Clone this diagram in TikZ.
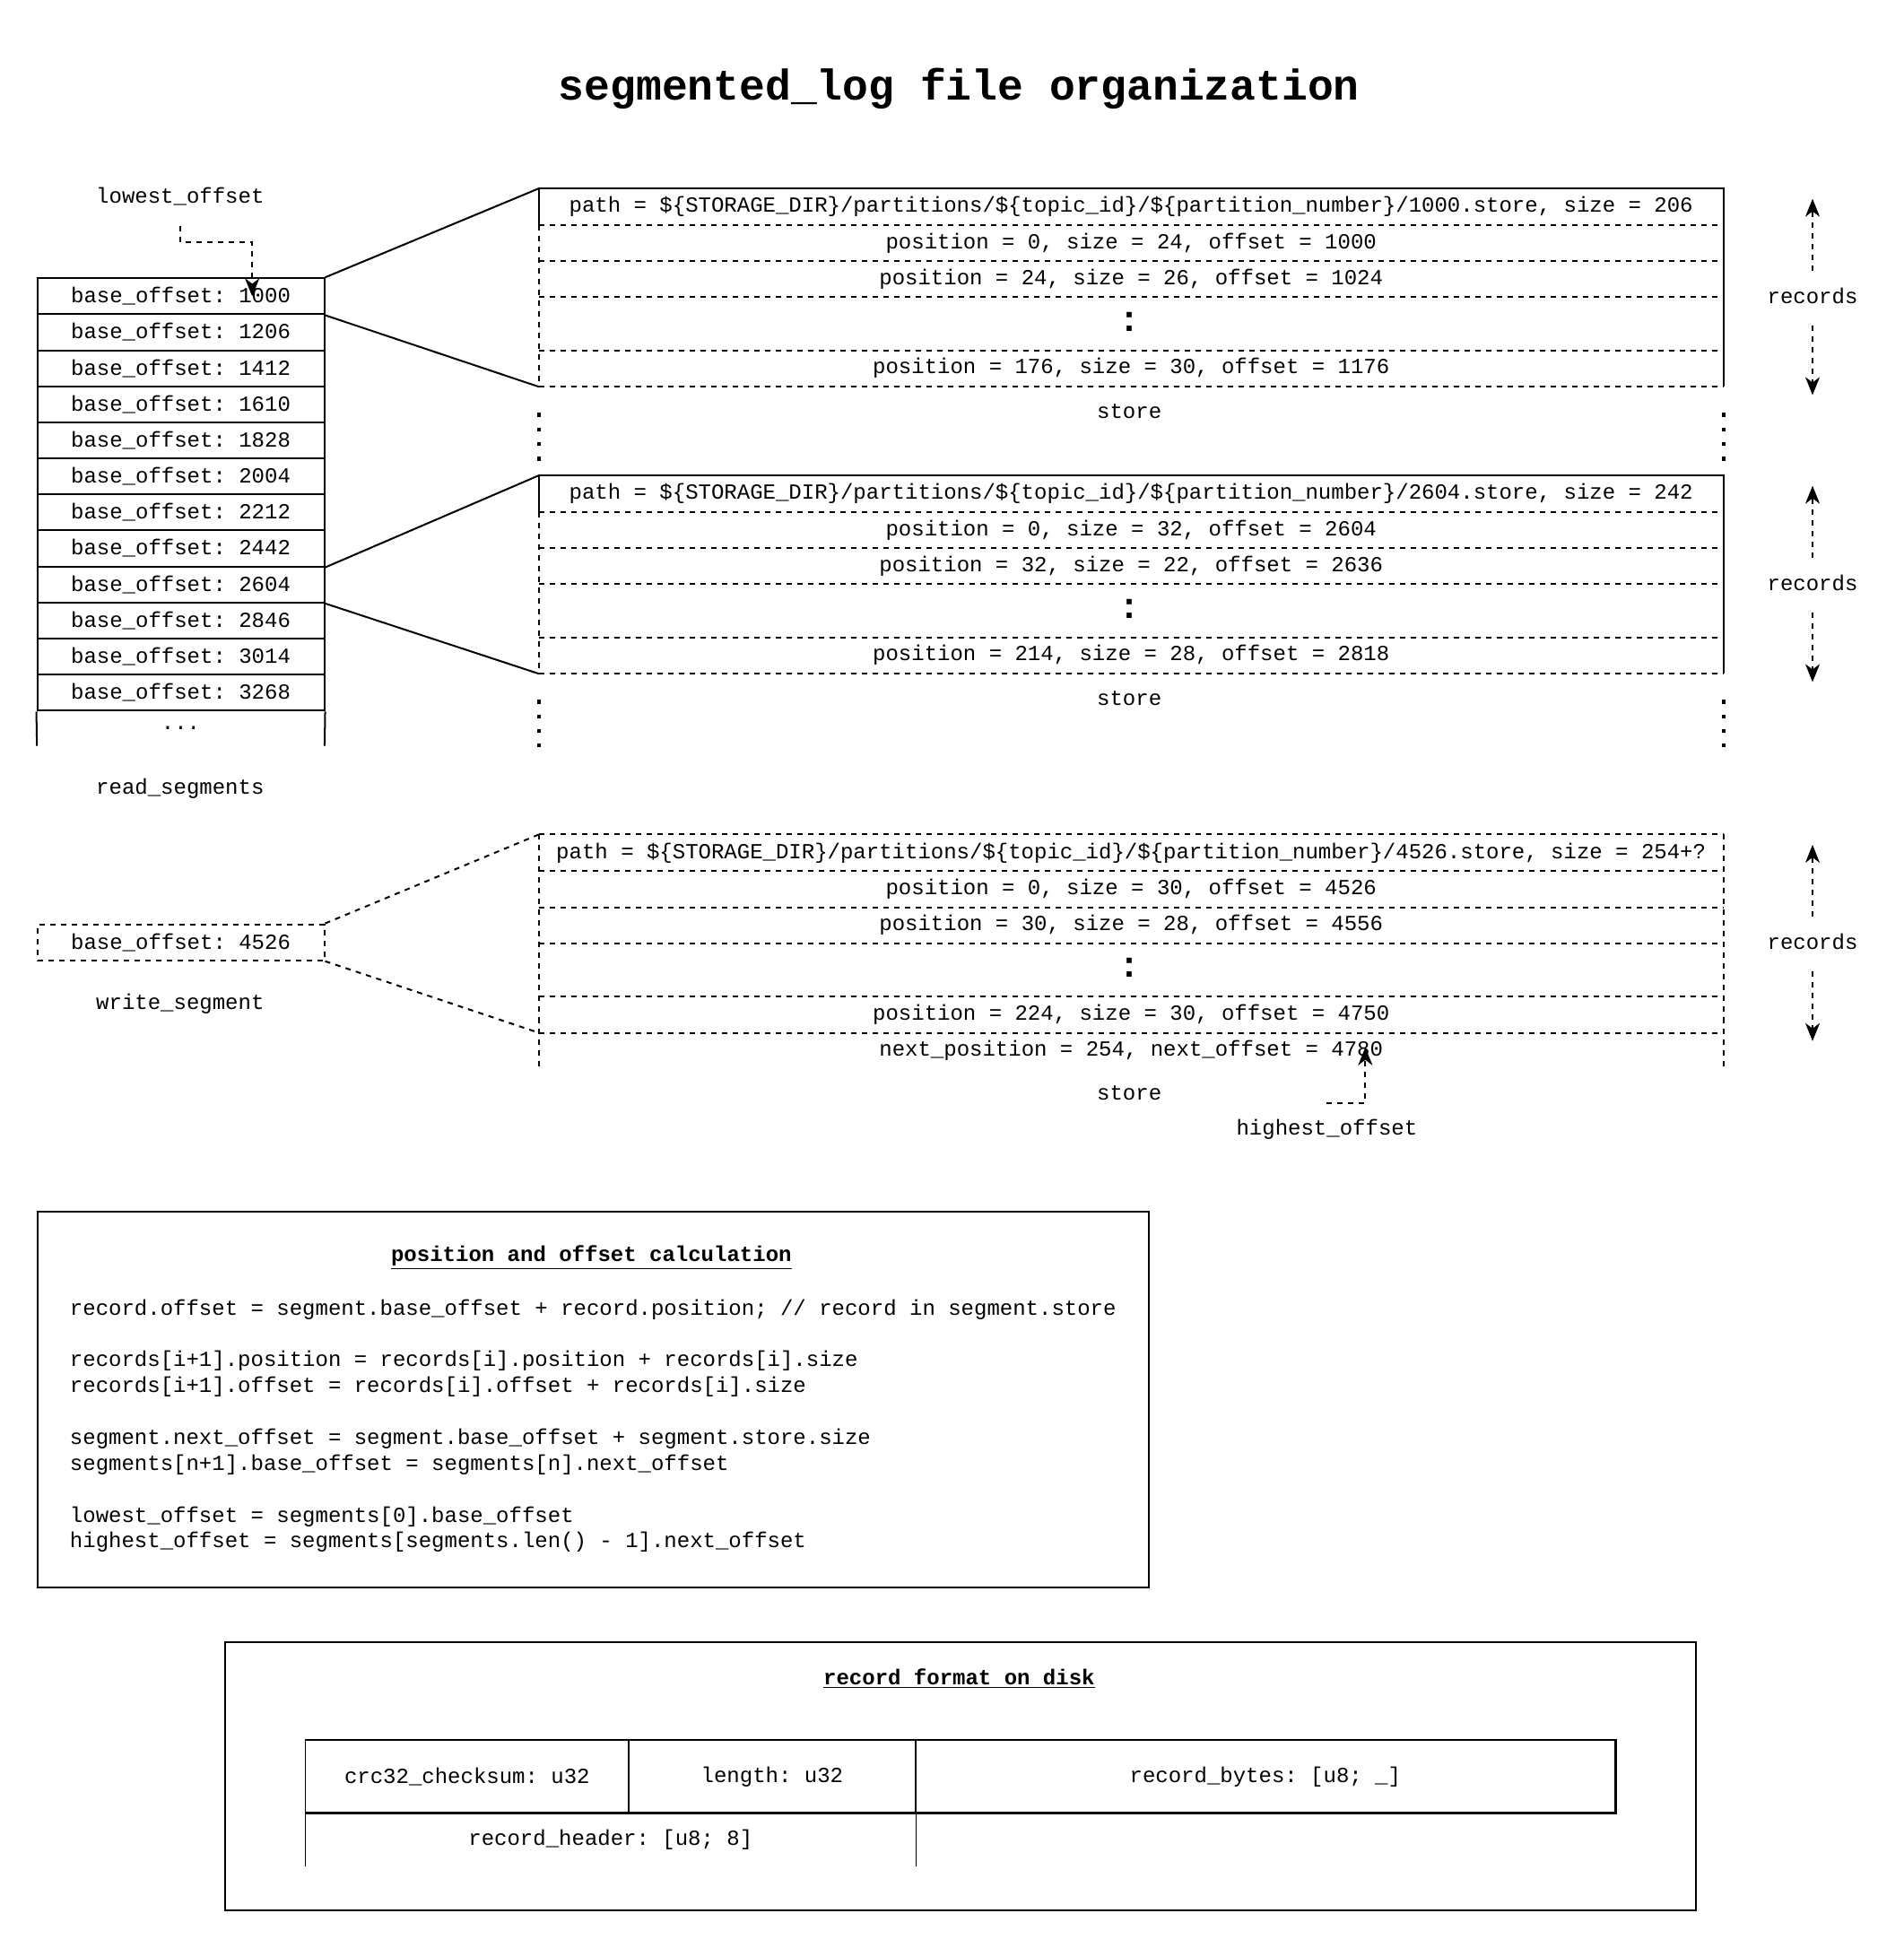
\documentclass[tikz,border=0pt]{standalone}
\usepackage{fontspec}
\setmainfont{Liberation Mono}
\usetikzlibrary{arrows.meta,calc}
\newcommand\U{0.6925pt}
\begin{document}
\begin{tikzpicture}[x=0.6925pt,y=-0.6925pt,
  every node/.style={font=\fontsize{12}{14}\selectfont\frenchspacing, inner sep=0pt},
  seg/.style={draw, line width=1pt, minimum width=231*\U, minimum height=29*\U},
  rec/.style={minimum width=953*\U, minimum height=29*\U},
  hdr/.style={minimum width=953*\U, minimum height=29*\U},
  solidl/.style={line width=1pt},
  dashl/.style={line width=1pt, dash pattern=on 3pt off 3pt},
  darr/.style={line width=1pt, dash pattern=on 3pt off 3pt, -{Stealth[length=10pt,width=8pt,inset=3pt]}},
  dotline/.style={line width=2.2pt, dash pattern=on 2.2pt off 6pt},
  vdots/.style={font=\fontsize{20}{24}\selectfont\bfseries},
  cell/.style={draw, line width=0.7pt}
]
\useasboundingbox (0,0) rectangle (1532,1568);

\node[font=\fontsize{24}{28}\selectfont\bfseries] (title) at (772,71) {segmented\_log file organization};

% read segments column
\foreach \v [count=\i] in {1000,1206,1412,1610,1828,2004,2212,2442,2604,2846,3014,3268}
  \node[seg] (s\i) at (145.5,209.5+29*\i) {base\_offset: \v};
\node[minimum width=231*\U, minimum height=28*\U] (s13) at (145.5,586) {...};
\draw[solidl] (s12.south west) -- (s13.south west);
\draw[solidl] (s12.south east) -- (s13.south east);
\node (rs) at (145,635) {read\_segments};

% lowest offset
\node (lo) at (145,158) {lowest\_offset};
\coordinate (lostart) at (145,182);
\coordinate (lobend) at (203,195);
\draw[darr] (lostart) |- (lobend) -- (lobend |- s1.center);

% store 1
\node[hdr] (h1) at (910.5,166.5) {path = \$\{STORAGE\_DIR\}/partitions/\$\{topic\_id\}/\$\{partition\_number\}/1000.store, size = 206};
\node[rec] (r1a) at (910.5,195.5) {position = 0, size = 24, offset = 1000};
\node[rec] (r1b) at (910.5,224.5) {position = 24, size = 26, offset = 1024};
\node[rec, minimum height=43*\U] (r1c) at (910.5,260.5) {};
\node[vdots] (d1) at (909,259) {:};
\node[rec] (r1d) at (910.5,296.5) {position = 176, size = 30, offset = 1176};
\foreach \r in {h1,r1a,r1b,r1c,r1d} \draw[dashl] (\r.south west) -- (\r.south east);
\draw[dashl] (h1.south west) -- (r1d.south west);
\draw[solidl] (h1.south west) -- (h1.north west) -- (h1.north east) -- (r1d.south east);
\node (st1) at (909,331) {store};
\draw[dotline] ($(r1d.south west)+(0,21)$) -- ++(0,40);
\draw[dotline] ($(r1d.south east)+(0,21)$) -- ++(0,40);
\draw[solidl] (s1.north east) -- (h1.north west);
\draw[solidl] (s1.south east) -- (r1d.south west);

% store 2
\node[hdr] (h2) at (910.5,397.5) {path = \$\{STORAGE\_DIR\}/partitions/\$\{topic\_id\}/\$\{partition\_number\}/2604.store, size = 242};
\node[rec] (r2a) at (910.5,426.5) {position = 0, size = 32, offset = 2604};
\node[rec] (r2b) at (910.5,455.5) {position = 32, size = 22, offset = 2636};
\node[rec, minimum height=43*\U] (r2c) at (910.5,491.5) {};
\node[vdots] (d2) at (909,490) {:};
\node[rec] (r2d) at (910.5,527.5) {position = 214, size = 28, offset = 2818};
\foreach \r in {h2,r2a,r2b,r2c,r2d} \draw[dashl] (\r.south west) -- (\r.south east);
\draw[dashl] (h2.south west) -- (r2d.south west);
\draw[solidl] (h2.south west) -- (h2.north west) -- (h2.north east) -- (r2d.south east);
\node (st2) at (909,562) {store};
\draw[dotline] ($(r2d.south west)+(0,21)$) -- ++(0,38);
\draw[dotline] ($(r2d.south east)+(0,21)$) -- ++(0,38);
\draw[solidl] (s8.south east) -- (h2.north west);
\draw[solidl] (s9.south east) -- (r2d.south west);

% write segment
\node[seg, dash pattern=on 3pt off 3pt] (w) at (145.5,758.5) {base\_offset: 4526};
\node (ws) at (145,808) {write\_segment};

% store 3
\node[hdr] (h3) at (910.5,686.5) {path = \$\{STORAGE\_DIR\}/partitions/\$\{topic\_id\}/\$\{partition\_number\}/4526.store, size = 254+?};
\node[rec] (r3a) at (910.5,715.5) {position = 0, size = 30, offset = 4526};
\node[rec] (r3b) at (910.5,744.5) {position = 30, size = 28, offset = 4556};
\node[rec, minimum height=43*\U] (r3c) at (910.5,780.5) {};
\node[vdots] (d3) at (909,779) {:};
\node[rec] (r3d) at (910.5,816.5) {position = 224, size = 30, offset = 4750};
\node[hdr] (r3e) at (910.5,845.5) {next\_position = 254, next\_offset = 4780};
\draw[dashl] (h3.north west) -- (h3.north east);
\foreach \r in {h3,r3a,r3b,r3c,r3d} \draw[dashl] (\r.south west) -- (\r.south east);
\draw[dashl] (h3.north west) -- (r3e.south west);
\draw[dashl] (h3.north east) -- (r3e.south east);
\node (st3) at (909,880) {store};
\draw[dashl] (w.north east) -- (h3.north west);
\draw[dashl] (w.south east) -- (r3d.south west);

% highest offset
\node (ho) at (1068,909) {highest\_offset};
\coordinate (hostart) at (1068,888);
\coordinate (hobend) at (1099,888);
\draw[darr] (hostart) -- (hobend) -- (1099,843);

% records arrows
\node (rec1) at (1459,238) {records};
\draw[darr] ($(rec1)+(0,-20)$) -- ($(rec1)+(0,-78)$);
\draw[darr] ($(rec1)+(0,24)$) -- ($(rec1)+(0,80)$);
\node (rec2) at (1459,469) {records};
\draw[darr] ($(rec2)+(0,-20)$) -- ($(rec2)+(0,-78)$);
\draw[darr] ($(rec2)+(0,24)$) -- ($(rec2)+(0,80)$);
\node (rec3) at (1459,758) {records};
\draw[darr] ($(rec3)+(0,-20)$) -- ($(rec3)+(0,-78)$);
\draw[darr] ($(rec3)+(0,24)$) -- ($(rec3)+(0,80)$);

% calculation box
\node[draw, line width=1pt, minimum width=895*\U, minimum height=303*\U] (calc) at (477.5,1126.5) {};
\node (calct) at (476,1012) {\underline{\textbf{position and offset calculation}}};
\node[anchor=west] (c1) at (56,1054) {record.offset = segment.base\_offset + record.position; // record in segment.store};
\node[anchor=west] (c2) at (56,1095) {records[i+1].position = records[i].position + records[i].size};
\node[anchor=west] (c3) at (56,1116) {records[i+1].offset = records[i].offset + records[i].size};
\node[anchor=west] (c4) at (56,1158) {segment.next\_offset = segment.base\_offset + segment.store.size};
\node[anchor=west] (c5) at (56,1179) {segments[n+1].base\_offset = segments[n].next\_offset};
\node[anchor=west] (c6) at (56,1221) {lowest\_offset = segments[0].base\_offset};
\node[anchor=west] (c7) at (56,1241) {highest\_offset = segments[segments.len() - 1].next\_offset};

% record format box
\node[draw, line width=1pt, minimum width=1184*\U, minimum height=216*\U] (fmt) at (773,1430) {};
\node (fmtt) at (772,1351) {\underline{\textbf{record format on disk}}};
\node[cell, minimum width=260*\U, minimum height=58*\U] (crc) at (376,1430) {crc32\_checksum: u32};
\node[cell, minimum width=231*\U, minimum height=58*\U] (len) at (621.5,1430) {length: u32};
\node[cell, minimum width=563*\U, minimum height=58*\U] (bytes) at (1018.5,1430) {record\_bytes: [u8; \_]};
\draw[line width=1.4pt] (crc.south west) -- (bytes.south east) -- (bytes.north east) -- (crc.north west);
\node[minimum width=491*\U, minimum height=43*\U] (rh) at (491.5,1480.5) {record\_header: [u8; 8]};
\draw[line width=0.7pt] (rh.north west) -- (rh.south west);
\draw[line width=0.7pt] (rh.north east) -- (rh.south east);
\end{tikzpicture}
\end{document}
